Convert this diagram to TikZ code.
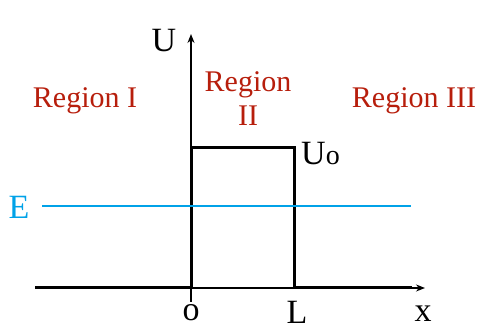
\documentclass[tikz,border=0pt]{standalone}
\usepackage{fontspec}
\setmainfont{Liberation Serif}
\usetikzlibrary{arrows.meta}
\definecolor{regred}{RGB}{183,30,12}
\definecolor{eblue}{RGB}{0,162,232}
\begin{document}
\begin{tikzpicture}[x=1pt,y=-1pt,
  lbl/.style={inner sep=0pt,anchor=base,font=\fontsize{34}{36}\selectfont},
  reg/.style={inner sep=0pt,anchor=base,text=regred,font=\fontsize{30}{34}\selectfont,align=center},
  axis/.style={line width=1.4pt,-{Stealth[length=9pt,width=7pt]}},
  pot/.style={line width=3pt,line cap=butt,line join=miter}]
\useasboundingbox (0,0) rectangle (479,328);
% coordinates
\coordinate (xl) at (35,288);
\coordinate (xr) at (425,288);
\coordinate (yb) at (191,302);
\coordinate (yt) at (191,34);
\coordinate (p0) at (191,288);
\coordinate (p1) at (191,148);
\coordinate (p2) at (294,148);
\coordinate (p3) at (294,288);
\coordinate (p4) at (412,288);
\coordinate (el) at (42,206);
\coordinate (er) at (411,206);
% axes
\draw[axis] (xl) -- (xr);
\draw[axis] (yb) -- (yt);
% potential
\draw[pot] (xl) -- (p0) -- (p1) -- (p2) -- (p3) -- (p4);
% energy
\draw[eblue,line width=2.2pt] (el) -- (er);
% labels
\node[lbl] (U) at (164,52) {U};
\node[lbl,anchor=base west] (U0) at (301,165) {U\fontsize{28}{30}\selectfont o};
\node[lbl,text=eblue] (E) at (19,219) {E};
\node[lbl] (o) at (191,321) {o};
\node[lbl] (L) at (297,324) {L};
\node[lbl] (x) at (423,322) {x};
\node[reg] (r1) at (85,108) {Region I};
\node[reg] (r2) at (248,92) {Region};
\node[reg] (r2b) at (248,126) {II};
\node[reg] (r3) at (414,108) {Region III};
\end{tikzpicture}
\end{document}
